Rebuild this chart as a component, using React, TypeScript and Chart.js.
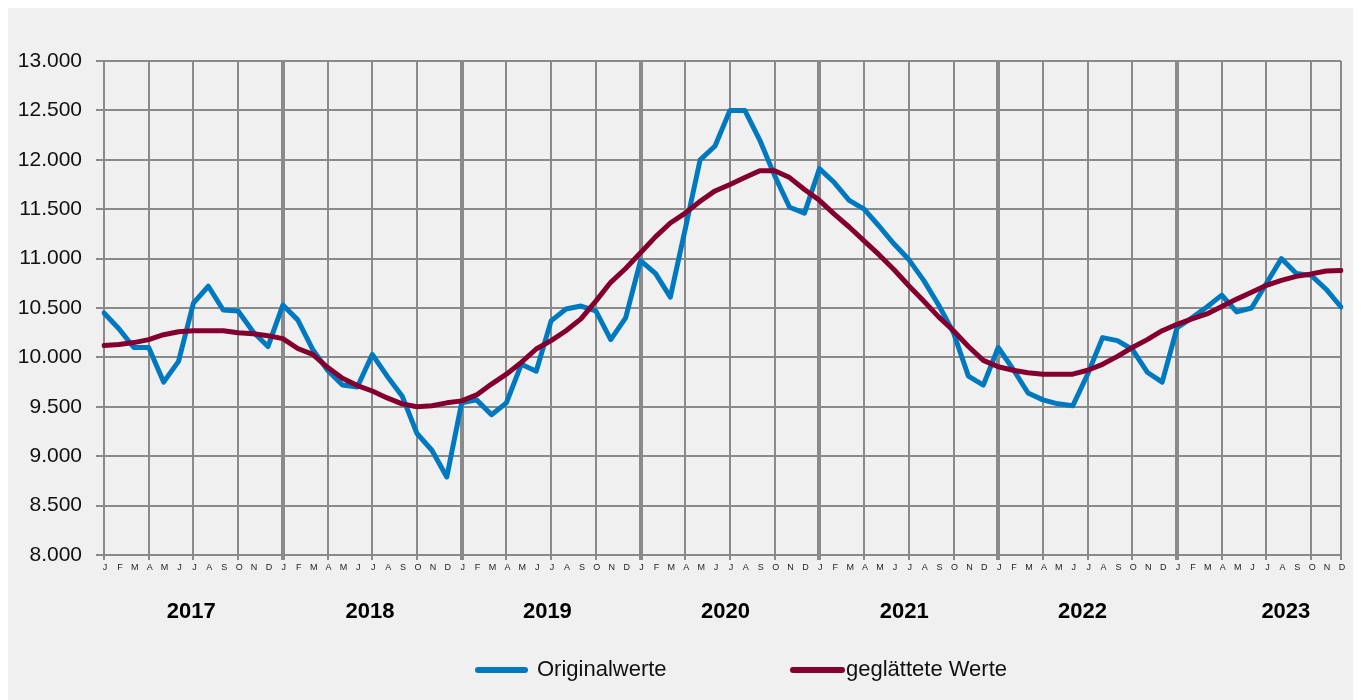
import React, { useEffect, useRef } from 'react';
import { Chart, registerables } from 'chart.js';

Chart.register(...registerables);

const MONTHS = ['J', 'F', 'M', 'A', 'M', 'J', 'J', 'A', 'S', 'O', 'N', 'D'];
const YEARS = ['2017', '2018', '2019', '2020', '2021', '2022', '2023'];

const ORIGINALWERTE = [
  10450, 10290, 10100, 10100, 9750, 9960, 10550, 10720, 10480, 10470, 10260, 10110,
  10530, 10380, 10080, 9870, 9720, 9700, 10030, 9810, 9610, 9230, 9060, 8790,
  9540, 9570, 9420, 9540, 9930, 9860, 10370, 10490, 10520, 10470, 10180, 10400,
  10980, 10850, 10610, 11300, 12000, 12140, 12500, 12500, 12200, 11840, 11520, 11460,
  11910, 11770, 11590, 11500, 11330, 11150, 10990, 10780, 10530, 10250, 9810, 9720,
  10100, 9880, 9640, 9570, 9530, 9510, 9830, 10200, 10170, 10080, 9850, 9750,
  10300, 10400, 10510, 10630, 10460, 10500, 10750, 11000, 10850, 10830, 10690, 10510,
];

const GEGLAETTET = [
  10120, 10130, 10150, 10180, 10230, 10260, 10270, 10270, 10270, 10250, 10240, 10220,
  10190, 10090, 10030, 9900, 9790, 9715, 9660, 9590, 9530, 9500, 9510, 9540,
  9560, 9620, 9730, 9830, 9950, 10085, 10170, 10270, 10390, 10570, 10760, 10900,
  11060, 11220, 11360, 11460, 11580, 11685, 11750, 11820, 11890, 11890, 11820, 11700,
  11590, 11450, 11320, 11180, 11040, 10890, 10725, 10570, 10410, 10270, 10110, 9970,
  9905, 9870, 9845, 9830, 9830, 9830, 9870, 9930, 10010, 10100, 10180, 10270,
  10335, 10390, 10440, 10515, 10590, 10660, 10730, 10780, 10820, 10845, 10875, 10880,
];

// position (in month index) where each year label sits under the axis
const YEAR_LABEL_AT = [5.85, 17.85, 29.75, 41.7, 53.7, 65.65, 79.3];

const SERIES_LABELS = ['Originalwerte', 'geglättete Werte'];
const Y_MIN = 8000;
const Y_MAX = 13000;
const Y_STEP = 500;

const BLUE = '#0079c1';
const MAROON = '#84002f';
const GRID = '#8a8a8a';
const BG = '#f0f0f0';
const FONT = '"Liberation Sans", Arial, sans-serif';

const W = 1345;
const H = 692;

const fmtDE = (v: number) => {
  const th = Math.floor(v / 1000);
  const rest = Math.round(v % 1000);
  return th + '.' + String(rest).padStart(3, '0');
};

const legendPlugin = {
  id: 'customLegend',
  afterDraw(chart: any) {
    const ctx = chart.ctx;
    const items = [
      { x1: 470, x2: 517, tx: 529 },
      { x1: 785, x2: 834, tx: 838 },
    ];
    const y = 662;
    ctx.save();
    chart.data.datasets.forEach((ds: any, i: number) => {
      const it = items[i];
      ctx.beginPath();
      ctx.strokeStyle = ds.borderColor;
      ctx.lineWidth = 6;
      ctx.lineCap = 'round';
      ctx.moveTo(it.x1, y);
      ctx.lineTo(it.x2, y);
      ctx.stroke();
      ctx.fillStyle = '#111';
      ctx.font = '22px ' + FONT;
      ctx.textBaseline = 'middle';
      ctx.textAlign = 'left';
      ctx.fillText(ds.label, it.tx, y);
    });
    ctx.restore();
  },
};

export default function App() {
  const ref = useRef<HTMLCanvasElement>(null);
  useEffect(() => {
    const labels = YEARS.flatMap(() => MONTHS);
    const last = labels.length - 1;
    const xGridColor = (c: any) => (c.index % 3 === 0 || c.index === last ? GRID : 'rgba(0,0,0,0)');
    const chart = new Chart(ref.current!, {
      type: 'line',
      data: {
        labels,
        datasets: [
          {
            label: SERIES_LABELS[0],
            data: ORIGINALWERTE,
            borderColor: BLUE,
            backgroundColor: BLUE,
            borderWidth: 5,
            pointRadius: 0,
            tension: 0,
            borderJoinStyle: 'round',
            borderCapStyle: 'round',
            order: 1,
          },
          {
            label: SERIES_LABELS[1],
            data: GEGLAETTET,
            borderColor: MAROON,
            backgroundColor: MAROON,
            borderWidth: 5,
            pointRadius: 0,
            tension: 0,
            borderJoinStyle: 'round',
            borderCapStyle: 'round',
            order: 0,
          },
        ],
      },
      options: {
        animation: false,
        responsive: false,
        devicePixelRatio: 1,
        layout: { padding: { top: 53, right: 12, bottom: 63, left: 0 } },
        plugins: {
          legend: { display: false },
          tooltip: { enabled: false },
        },
        scales: {
          x: {
            type: 'category',
            position: 'bottom',
            weight: 0,
            offset: false,
            grid: {
              color: xGridColor,
              tickColor: xGridColor,
              lineWidth: (c: any) => (c.index % 12 === 0 && c.index > 0 ? 4 : 2),
              tickLength: 5,
            },
            border: { color: GRID, width: 2 },
            ticks: {
              autoSkip: false,
              maxRotation: 0,
              minRotation: 0,
              font: { family: FONT, size: 9 },
              color: '#222',
              padding: 2,
              labelOffset: 1,
            },
            afterFit: (s: any) => {
              s.height = 22;
            },
          },
          x2: {
            type: 'linear',
            position: 'bottom',
            weight: 1,
            min: 0,
            max: last,
            afterBuildTicks: (s: any) => {
              s.ticks = YEAR_LABEL_AT.map((v) => ({ value: v }));
            },
            grid: { display: false, drawTicks: false },
            border: { display: false },
            ticks: {
              autoSkip: false,
              maxRotation: 0,
              minRotation: 0,
              callback: (_v: any, i: number) => YEARS[i],
              font: { family: FONT, size: 22, weight: 'bold' },
              color: '#000',
              padding: 22,
            },
            afterFit: (s: any) => {
              s.height = 60;
            },
          },
          y: {
            min: Y_MIN,
            max: Y_MAX,
            ticks: {
              stepSize: Y_STEP,
              callback: (v: any) => fmtDE(Number(v)),
              font: { family: FONT, size: 21 },
              color: '#111',
              padding: 14,
            },
            grid: { color: GRID, lineWidth: 2, tickLength: 8 },
            border: { color: GRID, width: 2 },
            afterFit: (s: any) => {
              s.width = 96;
            },
          },
        },
      } as any,
      plugins: [legendPlugin],
    });
    return () => chart.destroy();
  }, []);
  return (
    <div style={{ width: W, height: H, background: BG }}>
      <canvas ref={ref} width={W} height={H} style={{ display: 'block' }} />
    </div>
  );
}
